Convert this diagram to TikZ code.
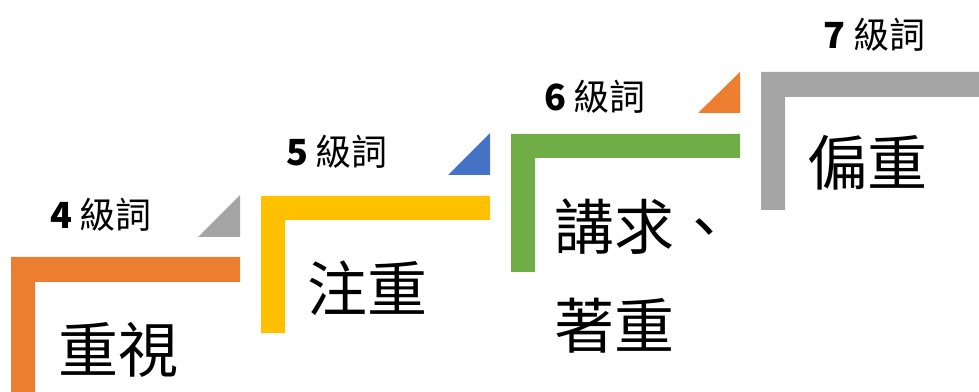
\documentclass[tikz,border=0pt]{standalone}
\usepackage{fontspec}
\setmainfont{Noto Sans CJK TC}
\definecolor{officeorange}{HTML}{ED7D31}
\definecolor{officeyellow}{HTML}{FFC000}
\definecolor{officegreen}{HTML}{70AD47}
\definecolor{officegray}{HTML}{A5A5A5}
\definecolor{officeblue}{HTML}{4472C4}
\begin{document}
\begin{tikzpicture}[
  x=0.75pt, y=-0.75pt,
  bracket/.style={draw=none},
  marker/.style={draw=none},
  level/.style={font=\fontsize{27}{32}\selectfont, inner sep=0pt},
  word/.style={font=\fontsize{45}{74}\selectfont, inner sep=0pt, align=left},
]
  \useasboundingbox (0,0) rectangle (979,392);

  % Step brackets
  \fill[bracket, officeorange] (11,257) -- (240,257) -- (240,282) -- (35,282) -- (35,392) -- (11,392) -- cycle;
  \fill[bracket, officeyellow] (261,196) -- (490,196) -- (490,220) -- (285,220) -- (285,333) -- (261,333) -- cycle;
  \fill[bracket, officegreen] (511,134) -- (740,134) -- (740,158) -- (535,158) -- (535,272) -- (511,272) -- cycle;
  \fill[bracket, officegray] (761,72) -- (979,72) -- (979,97) -- (785,97) -- (785,210) -- (761,210) -- cycle;

  % Corner triangles
  \fill[marker, officegray] (198,237) -- (240,237) -- (240,195) -- cycle;
  \fill[marker, officeblue] (448,175) -- (490,175) -- (490,133) -- cycle;
  \fill[marker, officeorange] (698,113) -- (740,113) -- (740,72) -- cycle;

  % Level labels
  \node[level] (lv4) at (101,215) {\textbf{4} 級詞};
  \node[level] (lv5) at (337,152) {\textbf{5} 級詞};
  \node[level] (lv6) at (595,97) {\textbf{6} 級詞};
  \node[level] (lv7) at (874,35) {\textbf{7} 級詞};

  % Words
  \node[word] (w4) at (118,350) {重視};
  \node[word] (w5) at (367,288) {注重};
  \node[word, anchor=west] (w6) at (554,276) {講求、\\著重};
  \node[word] (w7) at (867,163) {偏重};
\end{tikzpicture}
\end{document}
